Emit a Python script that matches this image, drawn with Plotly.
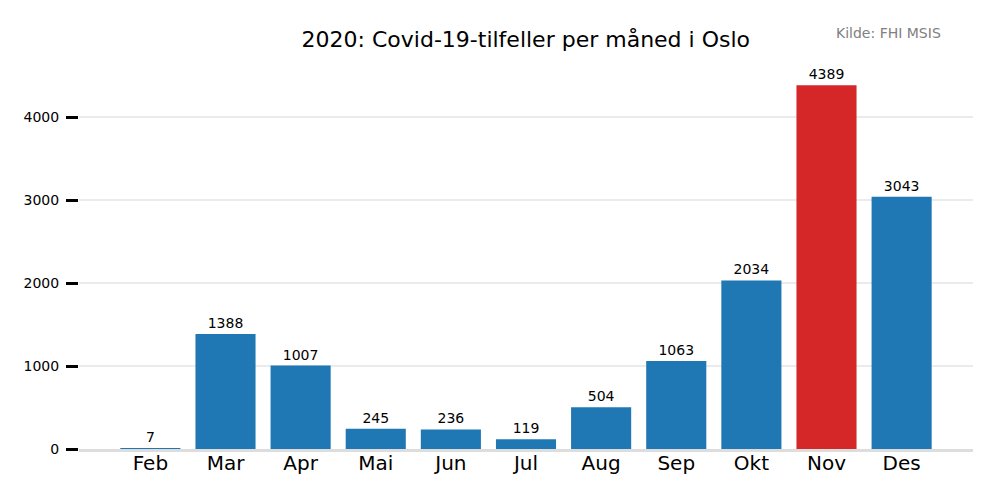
import plotly.graph_objects as go

# Data: monthly Covid-19 cases in Oslo, 2020
months = ["Feb", "Mar", "Apr", "Mai", "Jun", "Jul", "Aug", "Sep", "Okt", "Nov", "Des"]
cases = [7, 1388, 1007, 245, 236, 119, 504, 1063, 2034, 4389, 3043]
highlight = "Nov"

bar_colors = ["#d62728" if m == highlight else "#1f77b4" for m in months]

fig = go.Figure()
fig.add_trace(go.Bar(
    x=list(range(len(months))),
    y=cases,
    width=0.8,
    marker=dict(color=bar_colors, line=dict(width=0)),
    text=[str(c) for c in cases],
    textposition="outside",
    textfont=dict(size=14, color="black"),
    cliponaxis=False,
))

# page body has an 8px margin, so the figure is a bit smaller and margins shifted
fig.update_layout(
    width=992, height=492,
    paper_bgcolor="white", plot_bgcolor="white",
    font=dict(family="DejaVu Sans", color="black"),
    margin=dict(l=71, r=27, t=59, b=51),
    showlegend=False,
    title=dict(text="2020: Covid-19-tilfeller per måned i Oslo", x=0.522, xanchor="center",
               y=0.937, yanchor="middle", font=dict(size=22, color="black")),
    bargap=0.2,
)

fig.update_xaxes(
    range=[-0.95, 10.95],
    tickvals=list(range(len(months))),
    ticktext=months,
    tickfont=dict(size=20),
    ticklabelstandoff=-6,
    showgrid=False,
    showline=True, linecolor="#dddddd", linewidth=3,
    ticks="", zeroline=False,
)
fig.update_yaxes(
    range=[0, 4608],
    tickvals=[0, 1000, 2000, 3000, 4000],
    tickfont=dict(size=14),
    ticklabelstandoff=4,
    showgrid=True, gridcolor="#ebebeb", gridwidth=2,
    ticks="outside", ticklen=12, tickwidth=3, tickcolor="black",
    zeroline=False, showline=False,
)

#Source note top right
fig.add_annotation(text="Kilde: FHI MSIS", xref="paper", yref="paper", x=0.966, y=1.09,
                   xanchor="right", yanchor="middle", showarrow=False,
                   font=dict(size=14, color="gray"))

fig.write_html("out.html")
